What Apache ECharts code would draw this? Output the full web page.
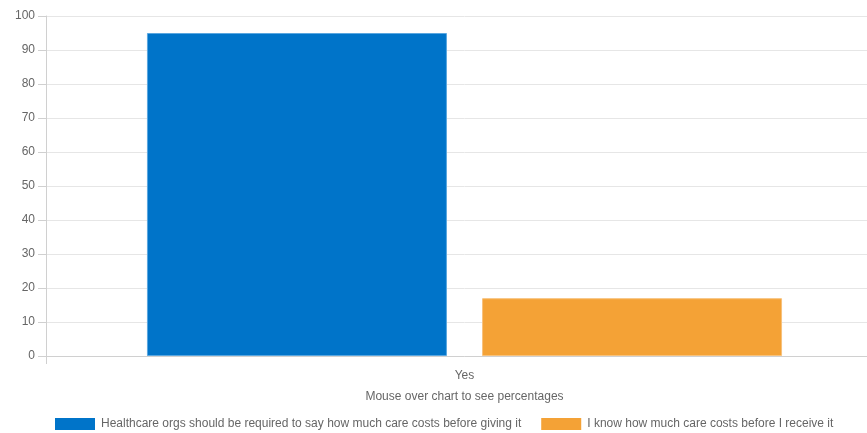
<!DOCTYPE html>
<html>
<head>
<meta charset="utf-8">
<script src="https://cdn.jsdelivr.net/npm/echarts@6/dist/echarts.min.js"></script>
<style>
  html, body { margin: 0; padding: 0; background: #fff; overflow: hidden; }
  /* the canvas is a bit wider than the window; its right edge is clipped */
  #chart { width: 883px; height: 433px; }
</style>
</head>
<body>
<div id="chart"></div>
<script>
// Survey answers, in percent
const categories = ['Yes'];
const seriesNames = [
  'Healthcare orgs should be required to say how much care costs before giving it',
  'I know how much care costs before I receive it'
];
const requiredToSay = [95];
const knowCosts = [17];
const yTicks = { min: 0, max: 100, interval: 10 };
const xAxisTitle = 'Mouse over chart to see percentages';

const colors = ['#0074c9', '#f4a236'];
const borders = ['#5aa7e0', '#f8c27c'];
const font = '"Liberation Sans", Arial, sans-serif';

const chart = echarts.init(document.getElementById('chart'), null, { renderer: 'canvas' });
chart.setOption({
  animation: false,
  textStyle: { fontFamily: font },
  grid: { left: 46, right: 0, top: 16, bottom: 77, containLabel: false },
  legend: {
    bottom: 3,
    left: 55,
    padding: 0,
    itemWidth: 40,
    itemHeight: 12,
    itemGap: 20,
    icon: 'rect',
    itemStyle: { borderWidth: 0 },
    textStyle: { color: '#666', fontSize: 12, fontFamily: font, padding: [0, 0, 0, 1] },
    data: seriesNames
  },
  xAxis: {
    type: 'category',
    data: categories,
    name: xAxisTitle,
    nameLocation: 'middle',
    nameGap: 35,
    nameTextStyle: { color: '#666', fontSize: 12, fontFamily: font },
    axisLine: { lineStyle: { color: '#d0d0d0' } },
    axisTick: { show: true, length: 8, lineStyle: { color: '#d0d0d0' } },
    axisLabel: { color: '#666', fontSize: 12, margin: 14, fontFamily: font },
    splitLine: { show: false }
  },
  yAxis: {
    type: 'value',
    min: yTicks.min,
    max: yTicks.max,
    interval: yTicks.interval,
    axisLine: { show: true, lineStyle: { color: '#d0d0d0' } },
    axisTick: { show: true, length: 8, lineStyle: { color: '#d0d0d0' } },
    axisLabel: { color: '#666', fontSize: 12, margin: 11, fontFamily: font },
    splitLine: { show: true, lineStyle: { color: '#e6e6e6' } }
  },
  series: [
    {
      name: seriesNames[0],
      type: 'bar',
      data: requiredToSay,
      barWidth: 300,
      barGap: '11.7%',
      itemStyle: { color: colors[0], borderColor: borders[0], borderWidth: 1 }
    },
    {
      name: seriesNames[1],
      type: 'bar',
      data: knowCosts,
      barWidth: 300,
      itemStyle: { color: colors[1], borderColor: borders[1], borderWidth: 1 }
    }
  ]
});
</script>
</body>
</html>
